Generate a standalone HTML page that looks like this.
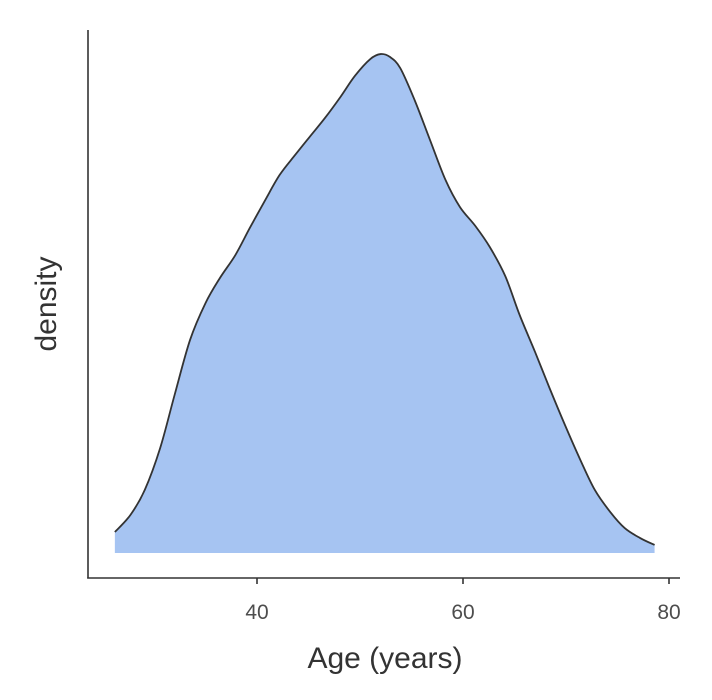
<!DOCTYPE html>
<html><head><meta charset="utf-8"><style>
body{margin:0;background:#fff;font-family:"Liberation Sans",Arial,sans-serif}
svg{display:block}
</style></head><body>
<svg id="chart" width="712" height="700">
<g id="plot"></g>
</svg>
<script>
const ages=[26.2,27.7,29.1,30.6,32.0,33.5,35.0,36.4,37.9,39.3,40.8,42.2,43.7,45.1,46.6,48.1,49.5,51.0,52.0,52.9,53.9,55.3,56.8,58.3,59.7,61.2,62.6,64.1,65.5,67.0,68.4,69.9,71.4,72.8,74.3,75.7,77.2,78.6];
const density=[1.18,2.13,3.54,5.90,8.88,11.97,14.04,15.45,16.74,18.26,19.83,21.24,22.36,23.37,24.44,25.62,26.80,27.75,28.03,27.87,27.25,25.45,23.20,20.96,19.44,18.37,17.19,15.56,13.37,11.29,9.27,7.19,5.22,3.54,2.30,1.40,0.84,0.45];
const xTicks=[40,60,80];
const NS="http://www.w3.org/2000/svg";
const X=v=>257+(v-40)*10.3;
const Y=d=>553-d*17.8;
const g=document.getElementById('plot');
function mk(t,a){const e=document.createElementNS(NS,t);for(const k in a)e.setAttribute(k,a[k]);g.appendChild(e);return e;}
const pts=ages.map((a,i)=>[X(a),Y(density[i])]);
function smooth(p){let d=`M${p[0][0]},${p[0][1]}`;for(let i=0;i<p.length-1;i++){const p0=p[i-1]||p[i],p1=p[i],p2=p[i+1],p3=p[i+2]||p2;
d+=` C${p1[0]+(p2[0]-p0[0])/6},${p1[1]+(p2[1]-p0[1])/6} ${p2[0]-(p3[0]-p1[0])/6},${p2[1]-(p3[1]-p1[1])/6} ${p2[0]},${p2[1]}`;}return d;}
const line=smooth(pts);
const area=mk('path',{d:line+` L${pts[pts.length-1][0]},${Y(0)} L${pts[0][0]},${Y(0)} Z`,fill:'#a6c4f2',stroke:'none'});


const ln=mk('path',{d:line,fill:'none',stroke:'#333','stroke-width':1.8});


const ya=mk('line',{x1:88,y1:30,x2:88,y2:578.5,stroke:'#333','stroke-width':1.6});


const xa=mk('line',{x1:87.2,y1:578,x2:680,y2:578,stroke:'#333','stroke-width':1.6});


xTicks.forEach(t=>{
 const tk=mk('line',{x1:X(t),y1:578,x2:X(t),y2:584,stroke:'#333','stroke-width':1.6});
 
 
 const tl=mk('text',{x:X(t),y:619,'text-anchor':'middle','font-size':21,fill:'#4d4d4d'});
 tl.textContent=t;
 
 
});
const xt=mk('text',{x:385,y:668,'text-anchor':'middle','font-size':30,fill:'#333'});
xt.textContent='Age (years)';


const yt=mk('text',{x:0,y:0,transform:'translate(56,304) rotate(-90)','text-anchor':'middle','font-size':30,fill:'#333'});
yt.textContent='density';


</script>
</body></html>
